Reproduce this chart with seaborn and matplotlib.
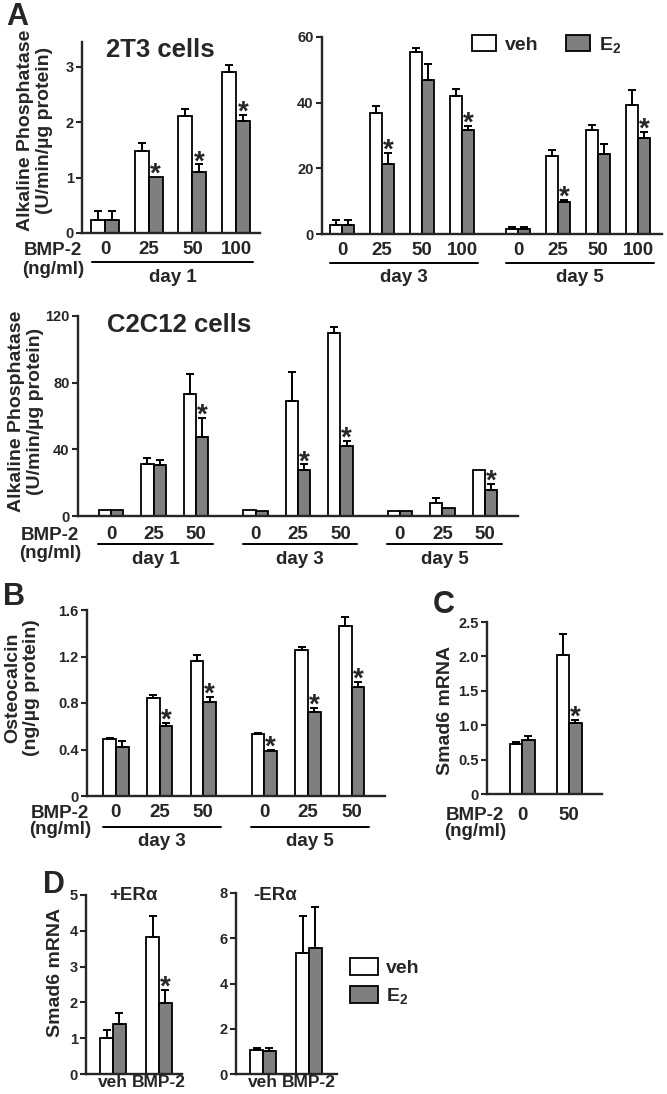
import matplotlib
matplotlib.use('Agg')
import numpy as np
import pandas as pd
import matplotlib.pyplot as plt
import matplotlib.transforms as mtransforms
import seaborn as sns

# figure size in pixels
W, H = 667, 1094
GRAY = '#7f7f7f'

treatments = ['veh', 'E$_2$']

# Panel A, 2T3 cells, day 1
a1_doses = ['0', '25', '50', '100']
a1_veh = [0.24, 1.49, 2.12, 2.91]
a1_veh_err = [0.15, 0.14, 0.12, 0.13]
a1_e2 = [0.24, 1.01, 1.11, 2.02]
a1_e2_err = [0.15, 0.0, 0.13, 0.12]
a1_star = [False, True, True, True]

# Panel A, 2T3 cells, day 3 and day 5
a2_days = ['day 3', 'day 5']
a2_doses = ['0', '25', '50', '100']
a2_veh = [2.8, 36.9, 55.4, 41.9, 1.6, 23.7, 31.6, 39.2]
a2_veh_err = [1.6, 2.2, 1.2, 2.4, 0.5, 2.0, 1.7, 4.6]
a2_e2 = [2.8, 21.3, 46.9, 31.7, 1.6, 9.7, 24.4, 29.2]
a2_e2_err = [1.4, 3.4, 5.0, 1.3, 0.4, 0.8, 3.0, 1.9]
a2_star = [False, True, False, True, False, True, False, True]

# Panel A, C2C12 cells
c2_days = ['day 1', 'day 3', 'day 5']
c2_doses = ['0', '25', '50']
c2_veh = [3.4, 31.0, 73.0, 3.4, 68.8, 110.0, 2.8, 7.8, 27.8]
c2_veh_err = [0, 4.0, 12.0, 0, 17.8, 3.2, 0, 3.2, 0]
c2_e2 = [3.4, 30.4, 47.4, 3.0, 27.4, 41.8, 2.8, 5.0, 15.8]
c2_e2_err = [0, 3.4, 11.4, 0, 3.6, 3.2, 0, 0, 3.4]
c2_star = [False, False, True, False, True, True, False, False, True]

# Panel B, osteocalcin
b_days = ['day 3', 'day 5']
b_doses = ['0', '25', '50']
b_veh = [0.49, 0.84, 1.16, 0.53, 1.26, 1.46]
b_veh_err = [0.01, 0.03, 0.05, 0.01, 0.02, 0.08]
b_e2 = [0.42, 0.60, 0.81, 0.39, 0.72, 0.94]
b_e2_err = [0.05, 0.03, 0.04, 0.01, 0.04, 0.04]
b_star = [False, True, True, True, True, True]

# Panel C, Smad6 mRNA
c_doses = ['0', '50']
c_veh = [0.72, 2.02]
c_veh_err = [0.04, 0.30]
c_e2 = [0.78, 1.03]
c_e2_err = [0.07, 0.05]
c_star = [False, True]

# Panel D, Smad6 mRNA with / without ER alpha
d_groups = ['veh', 'BMP-2']
d1_veh = [1.0, 3.84]
d1_veh_err = [0.23, 0.58]
d1_e2 = [1.41, 1.97]
d1_e2_err = [0.28, 0.38]
d1_star = [False, True]
d2_veh = [1.04, 5.33]
d2_veh_err = [0.13, 1.67]
d2_e2 = [1.0, 5.58]
d2_e2_err = [0.17, 1.81]
d2_star = [False, False]

sns.set_theme(style='ticks')
plt.rcParams['font.family'] = ['Liberation Sans', 'DejaVu Sans']
plt.rcParams['font.weight'] = 'bold'
plt.rcParams['mathtext.fontset'] = 'custom'
plt.rcParams['mathtext.bf'] = 'Liberation Sans:bold'
plt.rcParams['mathtext.rm'] = 'Liberation Sans:bold'
plt.rcParams['mathtext.default'] = 'bf'

fig = plt.figure(figsize=(W / 100, H / 100), dpi=100)
fig.patch.set_facecolor('white')

XT = 13.5   # size of x tick labels and group labels
YL = 14     # size of y axis titles


def fy(ypx):
    return 1 - ypx / H


def make_ax(x0, x1, ytop, ybot):
    return fig.add_axes([x0 / W, 1 - ybot / H, (x1 - x0) / W, (ybot - ytop) / H])


def ftext(x, y, s, **kw):
    kw.setdefault('ha', 'center')
    kw.setdefault('va', 'center')
    fig.text(x / W, fy(y), s, fontweight='bold', **kw)


def group_positions(n_per_group, n_groups, gap=1.4):
    out = []
    start = 0.0
    for g in range(n_groups):
        out.append([start + i for i in range(n_per_group)])
        start += n_per_group - 1 + gap
    return out


def bar_panel(ax, pos, veh, veh_err, e2, e2_err, stars, width, legend=False):
    n = len(pos)
    df = pd.DataFrame({
        'pos': list(pos) * 2,
        'treatment': [treatments[0]] * n + [treatments[1]] * n,
        'value': list(veh) + list(e2),
        'err': list(veh_err) + list(e2_err),
        'star': [False] * n + list(stars),
    })
    sns.barplot(data=df, x='pos', y='value', hue='treatment', hue_order=treatments,
                palette={treatments[0]: 'white', treatments[1]: GRAY},
                native_scale=True, width=width, errorbar=None, saturation=1,
                edgecolor='black', linewidth=1.3, legend=legend, ax=ax)
    bars = list(ax.containers[:2])
    for cont, t in zip(bars, treatments):
        sub = df[df['treatment'] == t].sort_values('pos')
        for patch, (_, row) in zip(cont, sub.iterrows()):
            cx = patch.get_x() + patch.get_width() / 2
            top = patch.get_height()
            if row['err'] > 0:
                ax.errorbar(cx, top, yerr=[[0], [row['err']]], fmt='none', ecolor='black',
                            elinewidth=1.4, capsize=2.8, capthick=1.4)
            if row['star']:
                ax.annotate('*', (cx, top + row['err']), xytext=(0, -3.5),
                            textcoords='offset points', ha='center', va='baseline',
                            fontsize=20, fontweight='bold')


def style_axis(ax, ylim, yticks, yticklabels, xlim, pos, xlabels, xpad=6, xsize=XT):
    ax.set_ylim(*ylim)
    ax.set_xlim(*xlim)
    ax.set_yticks(yticks)
    ax.set_yticklabels(yticklabels, fontweight='bold')
    ax.set_xticks(pos)
    ax.set_xticklabels(xlabels, fontweight='bold')
    ax.set_xlabel('')
    ax.set_ylabel('')
    ax.set_facecolor('white')
    sns.despine(ax=ax)
    for s in ['left', 'bottom']:
        ax.spines[s].set_linewidth(1.7)
    ax.tick_params(axis='y', length=4, width=1.5, labelsize=10.5, pad=2)
    ax.tick_params(axis='x', length=0, labelsize=xsize, pad=xpad)


def group_labels(ax, groups, names, line_y, text_y):
    trans = mtransforms.blended_transform_factory(ax.transData, fig.transFigure)
    for p, name in zip(groups, names):
        ax.plot([p[0] - 0.3, p[-1] + 0.4], [fy(line_y)] * 2, color='black', lw=1.4,
                transform=trans, clip_on=False)
        ax.text((p[0] + p[-1]) / 2 + 0.05, fy(text_y), name, transform=trans,
                ha='center', va='center', fontsize=XT, fontweight='bold')


def bmp_label(x, y1, y2):
    ftext(x, y1, 'BMP-2', fontsize=XT)
    ftext(x, y2, '(ng/ml)', fontsize=XT)


# ---- A: 2T3 day 1 ----
ax = make_ax(82, 260, 42, 233)
g = group_positions(len(a1_doses), 1)
pos = sum(g, [])
bar_panel(ax, pos, a1_veh, a1_veh_err, a1_e2, a1_e2_err, a1_star, 0.64)
style_axis(ax, (0, 3.45), [0, 1, 2, 3], ['0', '1', '2', '3'], (-0.53, 3.55), pos, a1_doses)
group_labels(ax, g, ['day 1'], 262, 277)
bmp_label(53, 250, 270)
ftext(160, 50, '2T3 cells', fontsize=18.5)
ftext(35, 130, 'Alkaline Phosphatase\n(U/min/\u00b5g protein)', rotation=90, fontsize=YL,
      linespacing=1.1)
ftext(17, 17, 'A', fontsize=22)

# ---- A: 2T3 day 3 / day 5 ----
ax = make_ax(322, 662, 37, 234)
g = group_positions(len(a2_doses), len(a2_days))
pos = sum(g, [])
bar_panel(ax, pos, a2_veh, a2_veh_err, a2_e2, a2_e2_err, a2_star, 0.58, legend=True)
style_axis(ax, (0, 60), [0, 20, 40, 60], ['0', '20', '40', '60'], (-0.5, 8.0), pos,
           a2_doses * len(a2_days))
group_labels(ax, g, a2_days, 263, 277)
sns.move_legend(ax, 'center left', bbox_to_anchor=(472 / W, fy(45)),
                bbox_transform=fig.transFigure, ncol=2, frameon=False, title=None,
                prop={'size': 14, 'weight': 'bold'}, handlelength=1.25, handleheight=0.9,
                handletextpad=0.45, columnspacing=1.4, borderpad=0, borderaxespad=0)

# ---- A: C2C12 ----
ax = make_ax(78, 518, 316, 516)
g = group_positions(len(c2_doses), len(c2_days))
pos = sum(g, [])
bar_panel(ax, pos, c2_veh, c2_veh_err, c2_e2, c2_e2_err, c2_star, 0.58)
style_axis(ax, (0, 120), [0, 40, 80, 120], ['0', '40', '80', '120'], (-0.78, 9.58), pos,
           c2_doses * len(c2_days), xpad=7)
group_labels(ax, g, c2_days, 544, 560)
bmp_label(50, 535, 553)
ftext(179, 325, 'C2C12 cells', fontsize=18.5)
ftext(26, 411, 'Alkaline Phosphatase\n(U/min/\u00b5g protein)', rotation=90, fontsize=YL,
      linespacing=1.1)

# ---- B: osteocalcin ----
ax = make_ax(87, 385, 610, 796)
g = group_positions(len(b_doses), len(b_days))
pos = sum(g, [])
bar_panel(ax, pos, b_veh, b_veh_err, b_e2, b_e2_err, b_star, 0.58)
style_axis(ax, (0, 1.6), [0, 0.4, 0.8, 1.2, 1.6], ['0', '0.4', '0.8', '1.2', '1.6'],
           (-0.66, 6.16), pos, b_doses * len(b_days))
group_labels(ax, g, b_days, 827, 842)
bmp_label(60, 813, 830)
ftext(22, 688, 'Osteocalcin\n(ng/\u00b5g protein)', rotation=90, fontsize=YL, linespacing=1.1)
ftext(14, 597, 'B', fontsize=22)

# ---- C: Smad6 mRNA ----
ax = make_ax(487, 602, 622, 794)
pos = [0, 1]
bar_panel(ax, pos, c_veh, c_veh_err, c_e2, c_e2_err, c_star, 0.53)
style_axis(ax, (0, 2.5), [0, 0.5, 1.0, 1.5, 2.0, 2.5], ['0', '0.5', '1.0', '1.5', '2.0', '2.5'],
           (-0.745, 1.70), pos, c_doses, xpad=9)
bmp_label(475, 815, 832)
ftext(445, 710, 'Smad6 mRNA', rotation=90, fontsize=YL)
ftext(444, 605, 'C', fontsize=22)

# ---- D: +ERa ----
ax = make_ax(86, 182, 895, 1074)
pos = [0, 1]
bar_panel(ax, pos, d1_veh, d1_veh_err, d1_e2, d1_e2_err, d1_star, 0.55)
style_axis(ax, (0, 5), [0, 1, 2, 3, 4, 5], ['0', '1', '2', '3', '4', '5'],
           (-0.59, 1.5), pos, d_groups, xpad=1, xsize=12.5)
ftext(133, 896, '+ER\u03b1', fontsize=XT)
ftext(55, 972, 'Smad6 mRNA', rotation=90, fontsize=YL)
ftext(54, 885, 'D', fontsize=22)

# ---- D: -ERa ----
ax = make_ax(236, 337, 893, 1074)
bar_panel(ax, pos, d2_veh, d2_veh_err, d2_e2, d2_e2_err, d2_star, 0.55, legend=True)
style_axis(ax, (0, 8), [0, 2, 4, 6, 8], ['0', '2', '4', '6', '8'],
           (-0.59, 1.61), pos, d_groups, xpad=1, xsize=12.5)
ftext(275, 896, '-ER\u03b1', fontsize=XT)
sns.move_legend(ax, 'center left', bbox_to_anchor=(350 / W, fy(982)),
                bbox_transform=fig.transFigure, ncol=1, frameon=False, title=None,
                prop={'size': 14, 'weight': 'bold'}, handlelength=1.45, handleheight=1.0,
                handletextpad=0.4, labelspacing=0.45, borderpad=0, borderaxespad=0)

fig.savefig('out.png', dpi=100, facecolor='white')
